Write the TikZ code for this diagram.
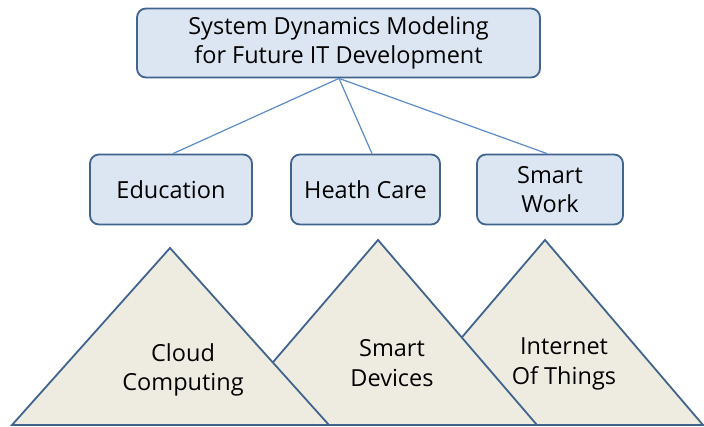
\documentclass[tikz,border=0pt]{standalone}
\usepackage{fontspec}
\setmainfont{Open Sans}
\definecolor{boxborder}{HTML}{41648F}
\definecolor{boxfill}{HTML}{DCE6F2}
\definecolor{trifill}{HTML}{EEECE1}
\definecolor{linkblue}{HTML}{5B8BC9}
\begin{document}
\begin{tikzpicture}[x=1pt,y=-1pt,
  box/.style={draw=boxborder, fill=boxfill, line width=1.8pt, rounded corners=9pt, inner sep=0pt, align=center, font=\fontsize{23.5}{29.5}\selectfont},
  tri/.style={draw=boxborder, fill=trifill, line width=1.8pt, line join=miter},
  link/.style={draw=linkblue, line width=1.2pt},
  lbl/.style={align=center, inner sep=0pt, font=\fontsize{23.5}{29.5}\selectfont}]
\useasboundingbox (0,0) rectangle (704,426);
% triangles (back to front)
\filldraw[tri] (387,425) -- (545,240) -- (703,425) -- cycle;
\filldraw[tri] (219,425) -- (378,240) -- (537,425) -- cycle;
\filldraw[tri] (12,425) -- (170,248) -- (329,425) -- cycle;
\node[lbl] (cloud) at (183,370) {Cloud\\Computing};
\node[lbl] (devices) at (392,363) {Smart\\Devices};
\node[lbl] (iot) at (564,364) {Internet\\Of Things};
% boxes
\node[box, minimum width=403pt, minimum height=69pt] (top) at (338.5,43) {System Dynamics Modeling\\for Future IT Development};
\node[box, minimum width=162pt, minimum height=70pt] (edu) at (171,189.5) {Education};
\node[box, minimum width=149pt, minimum height=70pt] (heath) at (365.5,189.5) {Heath Care};
\node[box, minimum width=146pt, minimum height=70pt] (work) at (550,189.5) {Smart\\Work};
% connectors
\coordinate (hub) at ([xshift=0.5pt]top.south);
\draw[link] (hub) -- ([xshift=2pt]edu.north);
\draw[link] (hub) -- ([xshift=6.5pt]heath.north);
\draw[link] (hub) -- ([xshift=-3pt]work.north);
\end{tikzpicture}
\end{document}
